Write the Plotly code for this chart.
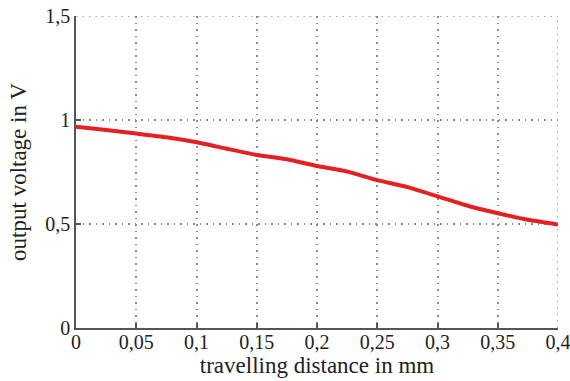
import plotly.graph_objects as go

distance_mm = [0.0, 0.025, 0.05, 0.075, 0.1, 0.125, 0.15, 0.175, 0.2, 0.225,
               0.25, 0.275, 0.3, 0.325, 0.35, 0.375, 0.4]
voltage_v = [0.968, 0.952, 0.935, 0.917, 0.893, 0.862, 0.832, 0.811, 0.779, 0.752,
             0.711, 0.677, 0.633, 0.588, 0.552, 0.520, 0.498]

x_ticks = [0, 0.05, 0.1, 0.15, 0.2, 0.25, 0.3, 0.35, 0.4]
x_ticklabels = ["0", "0,05", "0,1", "0,15", "0,2", "0,25", "0,3", "0,35", "0,4"]
y_ticks = [0, 0.5, 1, 1.5]
y_ticklabels = ["0", "0,5", "1", "1,5"]

font_family = "Liberation Serif, Times New Roman, serif"
grid_color = "#8a8a8a"
grid_dash = "1.5px,5px"

fig = go.Figure()
fig.add_trace(go.Scatter(
    x=distance_mm, y=voltage_v, mode="lines",
    line=dict(color="rgb(230,32,32)", width=4, shape="spline", smoothing=0.5),
    showlegend=False,
))

axis_common = dict(
    showline=True, linecolor="#555555", linewidth=1.5,
    ticks="inside", ticklen=5, tickcolor="#555555", tickwidth=1.5,
    showgrid=True, gridcolor=grid_color, gridwidth=1.5, griddash=grid_dash,
    zeroline=False, mirror=False, automargin=False,
    ticklabeloverflow="allow",
    tickfont=dict(family=font_family, size=20, color="#222222"),
)

fig.update_xaxes(range=[0, 0.4], tickvals=x_ticks, ticktext=x_ticklabels,
                 ticklabelstandoff=-5,
                 title_text="travelling distance in mm", title_standoff=0,
                 title_font=dict(family=font_family, size=23, color="#222222"),
                 **axis_common)
fig.update_yaxes(range=[0, 1.5], tickvals=y_ticks, ticktext=y_ticklabels,
                 title_text="output voltage in V", title_standoff=12,
                 title_font=dict(family=font_family, size=23, color="#222222"),
                 **axis_common)

# dotted grid lines at the upper and right range ends (plotly omits edge grid lines)
fig.add_shape(type="line", xref="paper", yref="y", x0=0, x1=1,
              y0=y_ticks[-1], y1=y_ticks[-1],
              line=dict(color=grid_color, width=1.5, dash=grid_dash))
fig.add_shape(type="line", xref="x", yref="paper", x0=x_ticks[-1], x1=x_ticks[-1],
              y0=0, y1=1,
              line=dict(color=grid_color, width=1.5, dash=grid_dash))

fig.update_layout(
    width=570, height=381,
    margin=dict(l=76, r=12, t=16, b=53),
    paper_bgcolor="white", plot_bgcolor="white",
    font=dict(family=font_family),
)

fig.write_html("out.html")
